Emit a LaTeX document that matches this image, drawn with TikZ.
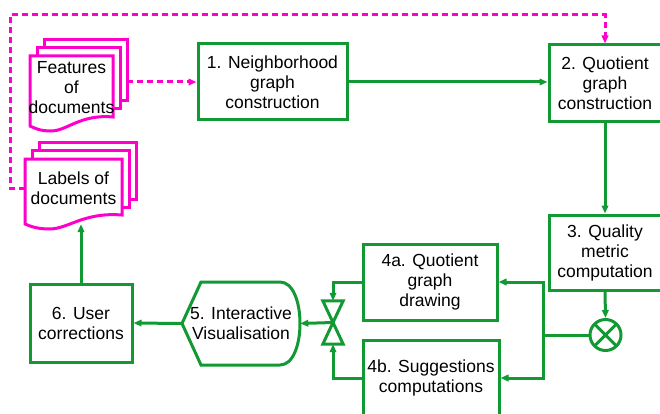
\documentclass[tikz,border=0pt]{standalone}
\usepackage{fontspec}
\setmainfont{Liberation Sans}
\usetikzlibrary{arrows.meta}

\definecolor{flowgreen}{RGB}{17,153,51}
\definecolor{docpink}{RGB}{255,0,204}

\tikzset{
  boxline/.style={draw=flowgreen, line width=3pt},
  box/.style={boxline, minimum width=#1, minimum height=76pt, inner sep=0pt, align=center},
  flowline/.style={flowgreen, line width=3pt},
  flowarrow/.style={flowline, ->},
  docline/.style={draw=docpink, fill=white, line width=3pt},
  doctext/.style={inner sep=0pt, align=center},
  dasharrow/.style={docpink, line width=3pt, dash pattern=on 6pt off 4pt, ->},
  mult/.style={circle, boxline, minimum size=31pt, inner sep=0pt,
    path picture={\draw[flowline] (path picture bounding box.north west) -- (path picture bounding box.south east)
      (path picture bounding box.north east) -- (path picture bounding box.south west);}}
}

% stack of documents: name, x, y (top left of front sheet), width, height, text
\newcommand{\docstack}[6]{%
  \begin{scope}[shift={(#2,#3)}]
    \draw[docline] (14,-16) rectangle (14+#4,-16+#5);
    \draw[docline] (7,-8) rectangle (7+#4,-8+#5);
    \draw[docline] (0,0) -- (#4,0) -- (#4,#5)
      .. controls (0.6*#4,#5-3) and (0.45*#4,#5+14) .. (0.25*#4,#5+14)
      .. controls (0.12*#4,#5+14) and (0.05*#4,#5+11) .. (0,#5+9) -- cycle;
    \node[doctext, minimum width=#4pt, minimum height={#5pt+16pt}] (#1) at (0.5*#4,0.5*#5+1) {#6};
    \coordinate (#1-back) at (14+#4,0.5*#5);
  \end{scope}}

\begin{document}
\begin{tikzpicture}[x=1pt, y=-1pt, font=\fontsize{17.5}{20}\selectfont,
  >={Triangle[length=8pt,width=6.5pt]}]
\useasboundingbox (0,0) rectangle (660,414);
\clip (0,0) rectangle (660,414);

% input documents
\docstack{features}{30}{56}{83}{61}{Features\\of\\documents}
\docstack{labels}{25}{159}{97}{56}{Labels of\\documents}

% processing steps
\node[box=149pt] (nbh) at (272.5,82) {1. Neighborhood\\graph\\construction};
\node[box=112pt, minimum height=77pt] (qgc) at (605,83.5) {2. Quotient\\graph\\construction};
\node[box=112pt, minimum height=75pt] (qmc) at (605,252.5) {3. Quality\\metric\\computation};
\node[box=134pt] (qgd) at (430,282) {4a. Quotient\\graph\\drawing};
\node[box=136pt] (sug) at (431,378) {4b. Suggestions\\computations};
\node[box=102pt, minimum height=78pt] (corr) at (81,323) {6. User\\corrections};

% combine, collate and display
\node[mult] (mult) at (605.5,335) {};
\node[minimum width=20pt, minimum height=43pt, inner sep=0pt] (collate) at (333,322.5) {};
\draw[boxline] (collate.north west) -- (collate.north east) -- (collate.south west) -- (collate.south east) -- cycle;
\draw[boxline] (182,323.5) -- (201,282) -- (280,282) .. controls (293,282) and (300,302) .. (300,323.5)
  .. controls (300,345) and (293,365) .. (280,365) -- (201,365) -- cycle;
\node[minimum width=118pt, minimum height=83pt, inner sep=0pt, align=center] (vis) at (241,323.5) {5. Interactive\\Visualisation};

% connectors
\draw[flowarrow] (nbh.east) -- (nbh.east -| qgc.west);
\draw[flowarrow] (qgc.south) -- (qmc.north);
\draw[flowarrow] (qmc.south) -- (mult.north);
\coordinate (fork) at (543,335);
\draw[flowline] (mult.west) -- (fork);
\draw[flowarrow] (fork) |- (qgd.east);
\draw[flowarrow] (fork) |- (sug.east);
\draw[flowarrow] (qgd.west) -| (collate.north);
\draw[flowarrow] (sug.west) -| (collate.south);
\draw[flowarrow] (collate.center) -- (vis.east);
\draw[flowarrow] (vis.west) -- (corr.east);
\draw[flowarrow] (corr.north) -- (corr.north |- labels.south);
\draw[dasharrow] (features-back |- nbh.west) -- (nbh.west);
\draw[dasharrow] (labels.west) -| (10,15) -| (qgc.north);
\end{tikzpicture}
\end{document}
